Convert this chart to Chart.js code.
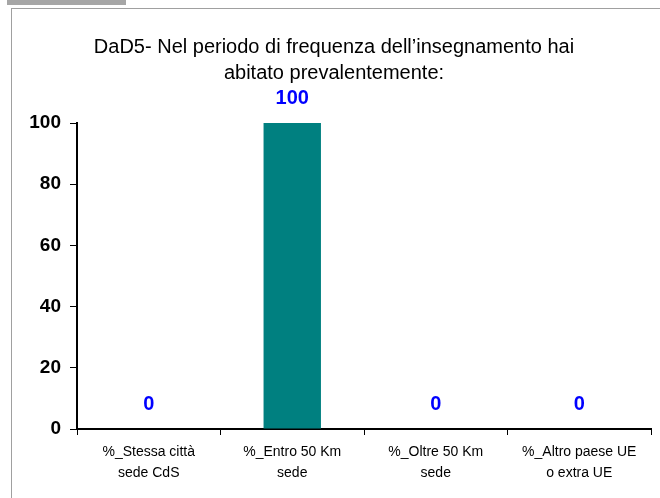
<!DOCTYPE html>
<html>
<head>
<meta charset="utf-8">
<script src="https://cdn.jsdelivr.net/npm/chart.js@4"></script>
<style>
  html, body { margin: 0; padding: 0; background: #fff; overflow: hidden; }
  #tab { position: absolute; left: 7px; top: 0; width: 119px; height: 5px; background: #a6a6a6; }
  #frame { position: absolute; left: 11px; top: 8px; width: 700px; height: 600px; border: 1px solid #a0a0a0; }
  #wrap { position: absolute; left: 0; top: 0; width: 660px; height: 498px; }
</style>
</head>
<body>
<div id="tab"></div>
<div id="frame"></div>
<div id="wrap"><canvas id="chart" width="660" height="498"></canvas></div>
<script>
const categories = [
  ["%_Stessa città", "sede CdS"],
  ["%_Entro 50 Km", "sede"],
  ["%_Oltre 50 Km", "sede"],
  ["%_Altro paese UE", "o extra UE"]
];
const values = [0, 100, 0, 0];
const yTicks = [0, 20, 40, 60, 80, 100];
const titleLines = ["DaD5- Nel periodo di frequenza dell\u2019insegnamento hai", "abitato prevalentemente:"];

const valueLabels = {
  id: "valueLabels",
  afterDatasetsDraw(chart) {
    const ctx = chart.ctx;
    const meta = chart.getDatasetMeta(0);
    ctx.save();
    ctx.font = "bold 20px 'Liberation Sans', Arial, sans-serif";
    ctx.fillStyle = "#0000ff";
    ctx.textAlign = "center";
    ctx.textBaseline = "middle";
    meta.data.forEach((el, i) => {
      ctx.fillText(String(values[i]), el.x, el.y - 25);
    });
    ctx.restore();
  }
};

new Chart(document.getElementById("chart"), {
  type: "bar",
  data: {
    labels: categories,
    datasets: [{
      data: values,
      backgroundColor: "#008080",
      barPercentage: 0.4,
      categoryPercentage: 1
    }]
  },
  plugins: [valueLabels],
  options: {
    responsive: false,
    animation: false,
    layout: { padding: { left: 17, right: 9, top: 0, bottom: 0 } },
    plugins: {
      legend: { display: false },
      tooltip: { enabled: false },
      title: {
        display: true,
        text: titleLines,
        color: "#000",
        font: { family: "'Liberation Sans', Arial, sans-serif", size: 20, weight: "normal", lineHeight: 26 / 20 },
        padding: { top: 34, bottom: 37 }
      }
    },
    scales: {
      x: {
        grid: { display: true, drawOnChartArea: false, offset: true, tickLength: 6, color: "#000", lineWidth: 1 },
        border: { color: "#000", width: 2 },
        ticks: {
          color: "#000",
          padding: 7,
          maxRotation: 0,
          autoSkip: false,
          font: { family: "'Liberation Sans', Arial, sans-serif", size: 14, lineHeight: 1.5 }
        },
        afterFit(scale) { scale.height = 69; }
      },
      y: {
        min: 0,
        max: 100,
        afterBuildTicks(scale) { scale.ticks = yTicks.map(v => ({ value: v })); },
        grid: { display: true, drawOnChartArea: false, tickLength: 7, color: "#000", lineWidth: 1 },
        border: { color: "#000", width: 2 },
        ticks: {
          color: "#000",
          padding: 9,
          font: { family: "'Liberation Sans', Arial, sans-serif", size: 19, weight: "bold" }
        },
        afterFit(scale) { scale.width = 60; }
      }
    }
  }
});
</script>
</body>
</html>
